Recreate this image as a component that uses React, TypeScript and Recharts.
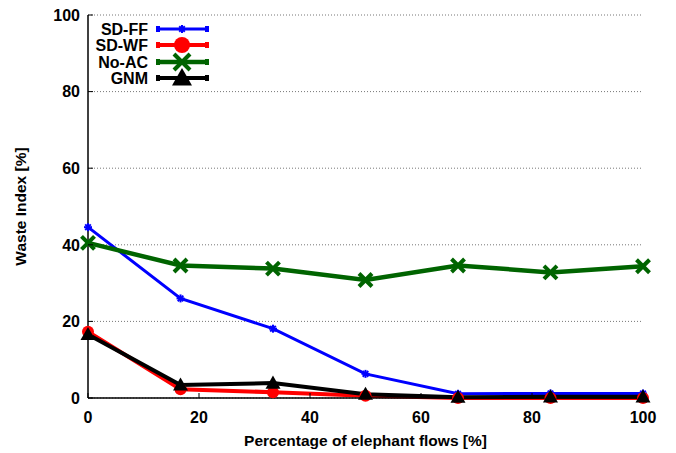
import { LineChart, Line, XAxis, YAxis, CartesianGrid, Legend } from "recharts";

// Waste index vs. share of elephant flows, four admission-control schemes.
const FLOW_SHARE = [0, 16.67, 33.33, 50, 66.67, 83.33, 100];
const SD_FF = [44.6, 26, 18.1, 6.3, 1.1, 1.2, 1.2];
const SD_WF = [17.3, 2.3, 1.5, 0.6, 0, 0, 0];
const NO_AC = [40.5, 34.6, 33.8, 30.8, 34.6, 32.8, 34.4];
const GNM = [16.6, 3.4, 3.9, 1.0, 0.2, 0.3, 0.3];

const X_TICKS = [0, 20, 40, 60, 80, 100];
const Y_TICKS = [0, 20, 40, 60, 80, 100];

const FONT = "'Liberation Sans', Arial, sans-serif";

const data = FLOW_SHARE.map((x, i) => ({
  x,
  sdff: SD_FF[i],
  sdwf: SD_WF[i],
  noac: NO_AC[i],
  gnm: GNM[i],
}));

type Shape = "star" | "circle" | "cross" | "triangle";

function Marker({ shape, cx, cy, color, size }: { shape: Shape; cx: number; cy: number; color: string; size: number }) {
  if (shape === "star") {
    const s = size;
    return (
      <g stroke={color} strokeWidth={2}>
        <line x1={cx - s} y1={cy} x2={cx + s} y2={cy} />
        <line x1={cx} y1={cy - s} x2={cx} y2={cy + s} />
        <line x1={cx - s * 0.7} y1={cy - s * 0.7} x2={cx + s * 0.7} y2={cy + s * 0.7} />
        <line x1={cx - s * 0.7} y1={cy + s * 0.7} x2={cx + s * 0.7} y2={cy - s * 0.7} />
      </g>
    );
  }
  if (shape === "circle") {
    return <circle cx={cx} cy={cy} r={size} fill={color} />;
  }
  if (shape === "cross") {
    const s = size;
    return (
      <g stroke={color} strokeWidth={4}>
        <line x1={cx - s} y1={cy - s} x2={cx + s} y2={cy + s} />
        <line x1={cx - s} y1={cy + s} x2={cx + s} y2={cy - s} />
      </g>
    );
  }
  const s = size;
  return <polygon points={`${cx},${cy - s} ${cx - s},${cy + s * 0.75} ${cx + s},${cy + s * 0.75}`} fill={color} />;
}

const SERIES: { key: string; name: string; color: string; shape: Shape; width: number; dot: number; keyDot: number }[] = [
  { key: "sdff", name: "SD-FF", color: "#0000ff", shape: "star", width: 3, dot: 4, keyDot: 4 },
  { key: "sdwf", name: "SD-WF", color: "#ff0000", shape: "circle", width: 4, dot: 6, keyDot: 8 },
  { key: "noac", name: "No-AC", color: "#006400", shape: "cross", width: 4.5, dot: 6.5, keyDot: 8 },
  { key: "gnm", name: "GNM", color: "#000000", shape: "triangle", width: 4, dot: 7.5, keyDot: 10 },
];

const BottomTick = ({ x, y, payload }: any) => (
  <g>
    <line x1={x} x2={x} y1={y} y2={y - 5} stroke="#000" />
    <text x={x} y={y + 25} textAnchor="middle" fontFamily={FONT} fontWeight="bold" fontSize={16} fill="#000">
      {payload.value}
    </text>
  </g>
);

const TopTick = ({ x, y }: any) => <line x1={x} x2={x} y1={y} y2={y + 5} stroke="#000" />;

const LeftTick = ({ x, y, payload }: any) => (
  <g>
    <line x1={x} x2={x + 5} y1={y} y2={y} stroke="#000" />
    <text x={x - 8} y={y} dy="0.36em" textAnchor="end" fontFamily={FONT} fontWeight="bold" fontSize={16} fill="#000">
      {payload.value}
    </text>
  </g>
);

const RightTick = ({ x, y }: any) => <line x1={x} x2={x - 5} y1={y} y2={y} stroke="#555" />;

function KeyBox() {
  const rows = [29, 45, 62, 78];
  return (
    <svg width={220} height={95}>
      {SERIES.map((s, i) => (
        <g key={s.key}>
          <text x={148} y={rows[i]} dy="0.36em" textAnchor="end" fontFamily={FONT} fontWeight="bold" fontSize={16} fill="#000">
            {s.name}
          </text>
          <line x1={158} x2={207} y1={rows[i]} y2={rows[i]} stroke={s.color} strokeWidth={s.width} />
          <rect x={156} y={rows[i] - 3} width={4} height={6} fill={s.color} />
          <rect x={205} y={rows[i] - 3} width={4} height={6} fill={s.color} />
          <Marker shape={s.shape} cx={182} cy={rows[i]} color={s.color} size={s.keyDot} />
        </g>
      ))}
    </svg>
  );
}

export default function App() {
  return (
    <div style={{ position: "absolute", left: 0, top: 0, background: "#fff" }}>
      <LineChart width={676} height={453} data={data} margin={{ top: 15, right: 33, left: 0, bottom: 0 }}>
        <CartesianGrid vertical={false} stroke="#777" strokeDasharray="1 2" />
        <XAxis
          dataKey="x"
          type="number"
          domain={[0, 100]}
          ticks={X_TICKS}
          height={55}
          tickSize={0}
          tickMargin={0}
          tick={BottomTick}
          axisLine={{ stroke: "#000", strokeWidth: 1.5 }}
          label={{
            value: "Percentage of elephant flows [%]",
            position: "insideBottom",
            offset: 7,
            fontFamily: FONT,
            fontWeight: "bold",
            fontSize: 15.5,
            fill: "#000",
          }}
        />
        <XAxis
          xAxisId="top"
          orientation="top"
          dataKey="x"
          type="number"
          domain={[0, 100]}
          ticks={X_TICKS}
          height={0}
          tickSize={0}
          tick={TopTick}
          axisLine={{ stroke: "#000", strokeWidth: 1.5 }}
        />
        <YAxis
          domain={[0, 100]}
          ticks={Y_TICKS}
          width={88}
          tickSize={0}
          tickMargin={0}
          tick={LeftTick}
          axisLine={{ stroke: "#000", strokeWidth: 1.5 }}
          label={{
            value: "Waste Index [%]",
            angle: -90,
            position: "insideLeft",
            offset: 20,
            style: { textAnchor: "middle" },
            fontFamily: FONT,
            fontWeight: "bold",
            fontSize: 15.5,
            fill: "#000",
          }}
        />
        <YAxis
          yAxisId="right"
          orientation="right"
          domain={[0, 100]}
          ticks={Y_TICKS}
          width={0}
          tickSize={0}
          tick={RightTick}
          axisLine={{ stroke: "#000", strokeWidth: 1.5 }}
        />
        <Legend layout="horizontal" verticalAlign="middle" align="center" wrapperStyle={{ position: "absolute", left: 0, top: 0, width: 220, height: 95 }} content={() => <KeyBox />} />
        {SERIES.map((s) => (
          <Line
            key={s.key}
            dataKey={s.key}
            name={s.name}
            type="linear"
            stroke={s.color}
            strokeWidth={s.width}
            isAnimationActive={false}
            activeDot={false}
            dot={(p: any) => <Marker key={`${s.key}-${p.index}`} shape={s.shape} cx={p.cx} cy={p.cy} color={s.color} size={s.dot} />}
          />
        ))}
      </LineChart>
    </div>
  );
}
